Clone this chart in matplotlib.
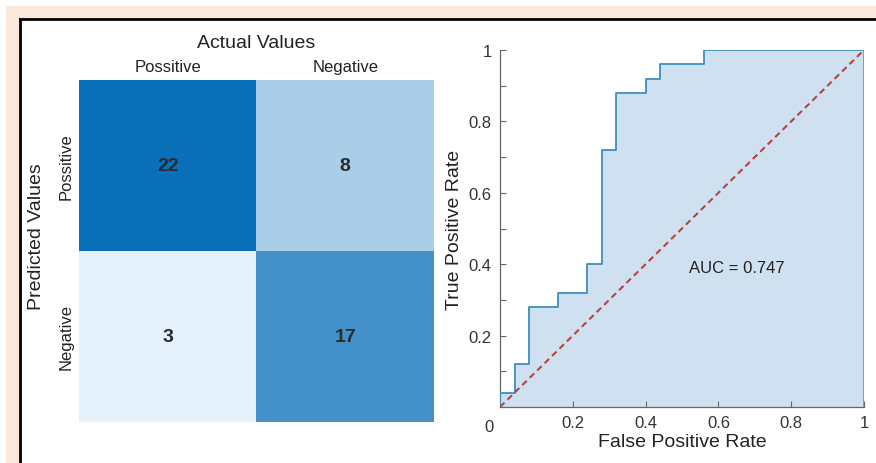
import matplotlib
matplotlib.use("Agg")
import matplotlib.pyplot as plt
from matplotlib.patches import Rectangle
from matplotlib.lines import Line2D
from matplotlib.colors import LinearSegmentedColormap
import numpy as np

plt.rcParams['font.family'] = ['Liberation Sans', 'DejaVu Sans']

# confusion matrix (rows = predicted, cols = actual)
class_labels = ['Possitive', 'Negative']
conf_mat = [[22, 8],
            [3, 17]]

# ROC curve corner points
fpr = [0, 0, 0.04, 0.04, 0.08, 0.08, 0.16, 0.16, 0.24, 0.24, 0.28, 0.28,
       0.32, 0.32, 0.40, 0.40, 0.44, 0.44, 0.56, 0.56, 1.0]
tpr = [0, 0.04, 0.04, 0.12, 0.12, 0.28, 0.28, 0.32, 0.32, 0.40, 0.40, 0.72,
       0.72, 0.88, 0.88, 0.92, 0.92, 0.96, 0.96, 1.0, 1.0]
auc_value = 0.747

W, H = 876, 464
fig = plt.figure(figsize=(W / 100, H / 100), dpi=100)
fig.patch.set_facecolor('white')

def fx(px):
    return px / W

def fy(py):
    return 1 - py / H

# peach bands (top and left) around the white panel
peach = '#fbe8da'
fig.patches.append(Rectangle((fx(6), fy(20)), 1 - fx(6), fy(7) - fy(20),
                             transform=fig.transFigure, facecolor=peach,
                             edgecolor='none', zorder=-3))
fig.patches.append(Rectangle((fx(6), 0), fx(20) - fx(6), fy(7),
                             transform=fig.transFigure, facecolor=peach,
                             edgecolor='none', zorder=-3))
fig.lines.append(Line2D([fx(20), fx(20)], [0, fy(20)], transform=fig.transFigure,
                        color='black', lw=2))
fig.lines.append(Line2D([fx(20), 1], [fy(20), fy(20)], transform=fig.transFigure,
                        color='black', lw=2))

# ---- confusion matrix ----
cm_cmap = LinearSegmentedColormap.from_list('cm_blues', ['#e4f0fa', '#0a6fb9'])
cm = np.array(conf_mat)
ax1 = fig.add_axes([fx(79), fy(423), fx(434) - fx(79), fy(81) - fy(423)])
ax1.imshow(cm, cmap=cm_cmap, vmin=cm.min(), vmax=cm.max(), aspect='auto')
for i in range(2):
    for j in range(2):
        ax1.text(j, i, str(conf_mat[i][j]), ha='center', va='center',
                 fontsize=14, fontweight='bold', color='#2b2b2b')
ax1.set_xticks(range(2))
ax1.set_xticklabels(class_labels, fontsize=12, color='#222222')
ax1.set_yticks(range(2))
ax1.set_yticklabels(class_labels, fontsize=12, color='#222222', rotation=90, va='center')
ax1.xaxis.tick_top()
ax1.tick_params(length=0, pad=4)
for s in ax1.spines.values():
    s.set_visible(False)
fig.text(fx(256), fy(43), 'Actual Values', ha='center', va='center',
         fontsize=14, color='#222222')
fig.text(fx(37), fy(237), 'Predicted Values', ha='center', va='center',
         fontsize=14, color='#222222', rotation=90)

# ---- ROC curve ----
ax2 = fig.add_axes([fx(500), fy(408), fx(864) - fx(500), fy(51) - fy(408)])
ax2.fill_between(fpr, tpr, 0, facecolor='#cfe1f0', edgecolor='none', zorder=1)
ax2.plot(fpr, tpr, color='#3d8ec0', lw=1.3, zorder=3)
ax2.plot([1, 1], [0, 1], color='#7f96aa', lw=1.3, zorder=3)
ax2.plot([0, 1], [0, 1], ls='--', color='#b5453a', lw=1.5, dashes=(3, 2), zorder=4)
ax2.set_xlim(0, 1)
ax2.set_ylim(0, 1)
ax2.set_xticks([0.2, 0.4, 0.6, 0.8, 1.0])
ax2.set_xticklabels(['0.2', '0.4', '0.6', '0.8', '1'])
ax2.set_yticks([0.2, 0.4, 0.6, 0.8, 1.0])
ax2.set_yticklabels(['0.2', '0.4', '0.6', '0.8', '1'])
ax2.set_yticks(np.arange(0.1, 1.0, 0.2), minor=True)
ax2.tick_params(direction='in', length=4, width=0.8, color='#666666',
                labelsize=12, labelcolor='#333333', pad=6)
ax2.tick_params(which='minor', direction='in', length=4, width=0.8, color='#666666')
ax2.text(-0.03, -0.033, '0', transform=ax2.transAxes, ha='center', va='top',
         fontsize=12, color='#333333')
for side in ['top', 'right']:
    ax2.spines[side].set_visible(False)
for side in ['left', 'bottom']:
    ax2.spines[side].set_color('#666666')
    ax2.spines[side].set_linewidth(0.9)
ax2.set_xlabel('False Positive Rate', fontsize=14, color='#222222', labelpad=2)
ax2.set_ylabel('True Positive Rate', fontsize=14, color='#222222', labelpad=4)
ax2.text(0.65, 0.39, 'AUC = %.3f' % auc_value, ha='center', va='center',
         fontsize=12, color='#222222')

fig.savefig('out.png', dpi=100)
